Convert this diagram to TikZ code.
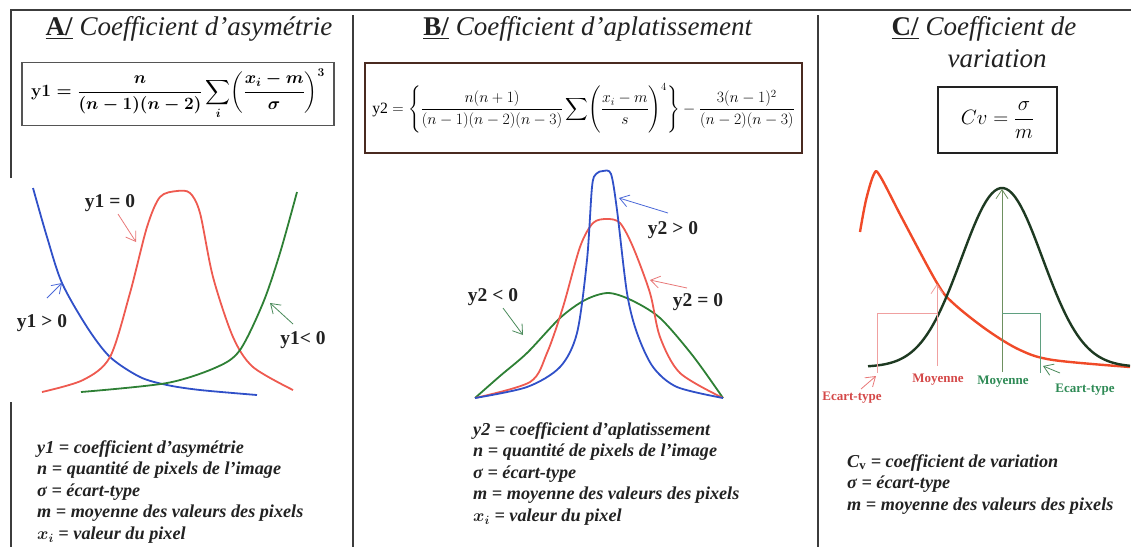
\documentclass[tikz,border=0pt]{standalone}
\usepackage{amsmath}
\usepackage{fontspec}
\setmainfont{Liberation Serif}
\usetikzlibrary{arrows.meta}
\definecolor{ink}{HTML}{222222}
\definecolor{frameink}{HTML}{3C3C3C}
\definecolor{boxgrey}{HTML}{555555}
\definecolor{boxbrown}{HTML}{4A2A20}
\definecolor{bluecurve}{HTML}{3050C8}
\definecolor{redcurve}{HTML}{EE5A50}
\definecolor{greencurve}{HTML}{2E8035}
\definecolor{bluetip}{HTML}{4A68D8}
\definecolor{redtip}{HTML}{E87878}
\definecolor{greentip}{HTML}{4A8A5A}
\definecolor{skewred}{HTML}{F04A28}
\definecolor{normgreen}{HTML}{1E3A22}
\definecolor{olivetip}{HTML}{6E9060}
\definecolor{greenrule}{HTML}{5FA080}
\definecolor{pinkrule}{HTML}{F0A0A0}
\definecolor{redtext}{HTML}{D44848}
\definecolor{greentext}{HTML}{2E8A55}

\begin{document}
\begin{tikzpicture}[x=1pt,y=-1pt,
    frameline/.style={draw=frameink,line width=1.4pt},
    ttl/.style={anchor=base,font=\fontsize{27}{30}\selectfont,color=ink},
    formbox/.style={draw,line width=1.6pt,inner sep=0pt},
    lbl/.style={font=\fontsize{19.5}{22}\selectfont\bfseries,color=ink,inner sep=1pt},
    clbl/.style={font=\fontsize{13}{15}\selectfont\bfseries,inner sep=1pt},
    legendtxt/.style={anchor=north west,align=left,inner sep=0pt,font=\fontsize{18.2}{21.6}\selectfont\bfseries\itshape,color=ink},
    ptr/.style={-{Straight Barb[length=9pt,width=12pt]},line width=0.8pt},
    curveline/.style={line width=1.8pt,line join=round}]
  \useasboundingbox (0,0) rectangle (1131,547);

  % frame and column rules
  \draw[frameline] (11,178) -- (11,10) -- (1131,10);
  \draw[frameline] (11,402) -- (11,547);
  \draw[frameline] (353,15) -- (353,547);
  \draw[frameline] (818,15) -- (818,547);

  % titles
  \node[ttl] (titA) at (189,35) {\underline{\textbf{A/}} \textit{Coefficient d’asymétrie}};
  \node[ttl] (titB) at (588,35) {\underline{\textbf{B/}} \textit{Coefficient d’aplatissement}};
  \node[ttl] (titC) at (984,35) {\underline{\textbf{C/}} \textit{Coefficient de}};
  \node[ttl] (titCb) at (997,67) {\textit{variation}};

  % formulas
  \node[formbox,draw=boxgrey,minimum width=312pt,minimum height=63pt,font=\fontsize{17.28}{20}\selectfont\boldmath] (fA) at (178,94) {$\displaystyle \mathbf{y1} = \frac{n}{(n-1)(n-2)}\sum_{i}\biggl(\frac{x_i-m}{\sigma}\biggr)^{3}$};
  \node[formbox,draw=boxbrown,line width=1.2pt,minimum width=437pt,minimum height=90pt,font=\fontsize{17.28}{20}\selectfont] (fB) at (583.5,108) {\scalebox{0.91}{$\displaystyle \mathrm{y2} = \Biggl\{\frac{n(n+1)}{(n-1)(n-2)(n-3)}\sum\Biggl(\frac{x_i-m}{s}\Biggr)^{4}\Biggr\} - \frac{3(n-1)^2}{(n-2)(n-3)}$}};
  \node[formbox,draw=ink,line width=1.2pt,minimum width=119pt,minimum height=66pt,font=\fontsize{20.74}{24}\selectfont] (fC) at (997.5,120) {$Cv = \dfrac{\sigma}{m}$};

  % A: skewness curves
  \draw[curveline,bluecurve] plot[smooth] coordinates {(33,188) (47,237) (62,283) (87,327) (110,357) (140,377) (167,385) (200,390) (257,395)};
  \draw[curveline,redcurve] plot[smooth] coordinates {(42,392) (83,380) (110,357) (130,293) (147,227) (160,197) (177,191) (190,193) (200,213) (213,277) (233,337) (253,367) (293,390)};
  \draw[curveline,greencurve] plot[smooth] coordinates {(81,392) (167,383) (217,367) (240,350) (263,303) (280,253) (297,192)};
  \node[lbl] (skz) at (110,203) {y1 = 0};
  \node[lbl] (skp) at (42,323) {y1 > 0};
  \node[lbl] (skn) at (303,340) {y1< 0};
  \coordinate (skzA) at (118,214);  \coordinate (skzB) at (136,242);
  \coordinate (skpA) at (47,298);   \coordinate (skpB) at (62,283);
  \coordinate (sknA) at (293,324);  \coordinate (sknB) at (270,303);
  \draw[ptr,redtip] (skzA) -- (skzB);
  \draw[ptr,bluetip] (skpA) -- (skpB);
  \draw[ptr,greentip] (sknA) -- (sknB);

  % B: kurtosis curves
  \draw[curveline,greencurve] plot[smooth] coordinates {(475,398) (500,376) (527,353) (560,318) (585,300) (608,293) (631,300) (660,318) (693,356) (723,398)};
  \draw[curveline,redcurve] plot[smooth] coordinates {(475,398) (530,382) (547,353) (563,307) (580,247) (593,223) (607,219) (620,223) (633,247) (650,293) (660,337) (680,373) (723,398)};
  \draw[curveline,bluecurve] plot[smooth] coordinates {(475,398) (527,387) (560,367) (577,333) (587,260) (592,187) (596,174) (603,171) (611,174) (617,210) (627,293) (637,333) (653,367) (677,387) (723,398)};
  \node[lbl] (kup) at (673,230) {y2 > 0};
  \node[lbl] (kuz) at (698,302) {y2 = 0};
  \node[lbl] (kun) at (493,297) {y2 < 0};
  \coordinate (kupA) at (668,213);  \coordinate (kupB) at (619,198);
  \coordinate (kuzA) at (687,288);  \coordinate (kuzB) at (650,280);
  \coordinate (kunA) at (503,308);  \coordinate (kunB) at (523,335);
  \draw[ptr,bluetip] (kupA) -- (kupB);
  \draw[ptr,redtip] (kuzA) -- (kuzB);
  \draw[ptr,greentip] (kunA) -- (kunB);

  % C: variation
  \draw[curveline,line width=2.4pt,skewred] plot[smooth,tension=0.55] coordinates {(860,232) (866,200) (874,174) (880,176) (903,220) (937,283) (953,303) (987,330) (1020,350) (1053,360) (1130,367)};
  \draw[curveline,line width=2.4pt,normgreen] plot[domain=868:1130,samples=90] (\x,{367-179*exp(-0.5*((\x-1002)/40.6)^2)});
  \coordinate (mgA) at (1002,372);  \coordinate (mgB) at (1002,189);
  \draw[ptr,olivetip] (mgA) -- (mgB);
  \draw[greenrule,line width=0.9pt] (1002,313) -- (1040,313) -- (1040,373);
  \coordinate (mrA) at (937,366);   \coordinate (mrB) at (937,284);
  \draw[ptr,pinkrule] (mrA) -- (mrB);
  \draw[pinkrule,line width=0.9pt] (937,313) -- (877,313) -- (877,373);
  \node[clbl,redtext] (ecR) at (852,398) {Ecart-type};
  \node[clbl,redtext] (moR) at (938,380) {Moyenne};
  \node[clbl,greentext] (moG) at (1003,382) {Moyenne};
  \node[clbl,greentext] (ecG) at (1085,390) {Ecart-type};
  \coordinate (erA) at (861,389);   \coordinate (erB) at (876,376);
  \coordinate (egA) at (1060,373);  \coordinate (egB) at (1043,366);
  \draw[ptr,redtip] (erA) -- (erB);
  \draw[ptr,greentip] (egA) -- (egB);

  % legends
  \node[legendtxt] (legA) at (37,440) {y1 = coefficient d'asymétrie\\ n = quantité de pixels de l'image\\ σ = écart-type\\ m = moyenne des valeurs des pixels\\ $\boldsymbol{x_i}$ = valeur du pixel};
  \node[legendtxt] (legB) at (473,422) {y2 = coefficient d'aplatissement\\ n = quantité de pixels de l'image\\ σ = écart-type\\ m = moyenne des valeurs des pixels\\ $\boldsymbol{x_i}$ = valeur du pixel};
  \node[legendtxt] (legC) at (847,454) {C\textsubscript{\textup{v}} = coefficient de variation\\ σ = écart-type\\ m = moyenne des valeurs des pixels};
\end{tikzpicture}
\end{document}
